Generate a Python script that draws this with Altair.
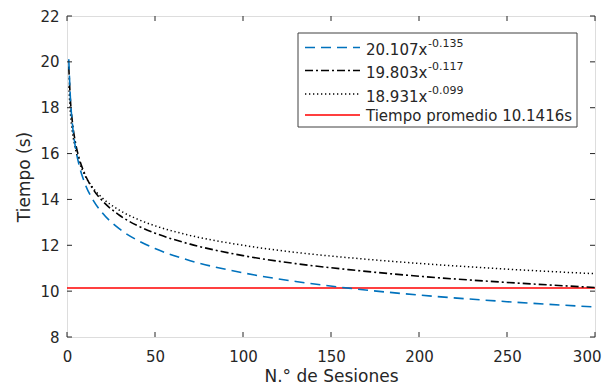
import altair as alt
import pandas as pd

# ---- data ----
sessions = [1, 2, 3, 5, 7, 10, 15, 20, 30, 40, 50, 70, 100, 130, 160, 200, 250, 300]
fit_a = [20.11, 18.31, 17.34, 16.18, 15.46, 14.73, 13.95, 13.42, 12.70, 12.22, 11.86,
         11.33, 10.80, 10.42, 10.13, 9.83, 9.54, 9.31]
fit_b = [19.80, 18.26, 17.42, 16.40, 15.77, 15.13, 14.42, 13.95, 13.30, 12.86, 12.53,
         12.05, 11.55, 11.20, 10.94, 10.65, 10.38, 10.16]
fit_c = [18.93, 17.68, 16.98, 16.14, 15.61, 15.07, 14.48, 14.07, 13.52, 13.14, 12.85,
         12.43, 12.00, 11.69, 11.46, 11.21, 10.96, 10.76]
avg_time = [10.1416]

x_ticks = [0, 50, 100, 150, 200, 250, 300]
y_ticks = [8, 10, 12, 14, 16, 18, 20, 22]

legend_bases = ["20.107x", "19.803x", "18.931x", "Tiempo promedio 10.1416s"]
legend_exps = ["-0.135", "-0.117", "-0.099", ""]

# ---- styling ----
FONT = "DejaVu Sans"
TXT = "#262626"
W, H = 528, 321
BLUE = "#0072BD"

xs = alt.Scale(domain=[0, 300], nice=False, zero=False)
ys = alt.Scale(domain=[8, 22], nice=False, zero=False)

x_axis = alt.Axis(values=x_ticks, title="N.° de Sesiones", grid=False, ticks=False,
                  domain=False, labelFont=FONT, labelFontSize=15, labelColor=TXT,
                  labelPadding=12,
                  labelAlign={"condition": {"test": "datum.value >= 300", "value": "right"},
                              "value": "center"},
                  labelOffset={"condition": {"test": "datum.value >= 300", "value": 6},
                               "value": 0},
                  titleFont=FONT, titleFontSize=17,
                  titleFontWeight="normal", titleColor=TXT, titlePadding=4)
y_axis = alt.Axis(values=y_ticks, title="Tiempo (s)", grid=False, ticks=False,
                  domain=False, labelFont=FONT, labelFontSize=15, labelColor=TXT,
                  labelPadding=8, titleFont=FONT, titleFontSize=17,
                  titleFontWeight="normal", titleColor=TXT, titlePadding=6)

df_a = pd.DataFrame({"x": sessions, "y": fit_a})
df_b = pd.DataFrame({"x": sessions, "y": fit_b})
df_c = pd.DataFrame({"x": sessions, "y": fit_c})

def curve(df, color, dash, width=1.6):
    return alt.Chart(df).mark_line(color=color, strokeDash=dash, strokeWidth=width,
                                   interpolate="monotone", clip=True).encode(
        x=alt.X("x:Q", scale=xs, axis=x_axis),
        y=alt.Y("y:Q", scale=ys, axis=y_axis),
    )

line_c = curve(df_c, "black", [1.3, 2.7], 1.5)
line_b = curve(df_b, "black", [8, 3, 2, 3], 1.6)
line_a = curve(df_a, BLUE, [10, 6], 1.6)

avg_rule = alt.Chart(pd.DataFrame({"v": avg_time})).mark_rule(
    color="#FF0000", strokeWidth=1.5).encode(y=alt.Y("v:Q", scale=ys, axis=y_axis))

# inner ticks (MATLAB style), on all four sides
xt = pd.DataFrame({"t": x_ticks})
yt = pd.DataFrame({"t": y_ticks})
tick_color = TXT
ticks = [
    alt.Chart(xt).mark_rule(color=tick_color, strokeWidth=1).encode(
        x=alt.X("t:Q", scale=xs, axis=x_axis), y=alt.value(H), y2=alt.value(H - 5)),
    alt.Chart(xt).mark_rule(color=tick_color, strokeWidth=1).encode(
        x=alt.X("t:Q", scale=xs, axis=x_axis), y=alt.value(0), y2=alt.value(5)),
    alt.Chart(yt).mark_rule(color=tick_color, strokeWidth=1).encode(
        y=alt.Y("t:Q", scale=ys, axis=y_axis), x=alt.value(0), x2=alt.value(5)),
    alt.Chart(yt).mark_rule(color=tick_color, strokeWidth=1).encode(
        y=alt.Y("t:Q", scale=ys, axis=y_axis), x=alt.value(W), x2=alt.value(W - 5)),
]

# ---- manual legend box (to allow superscript exponents) ----
one = pd.DataFrame({"k": [0]})
legend_layers = [
    alt.Chart(one).mark_rect(fill="white", stroke="#404040", strokeWidth=1).encode(
        x=alt.value(231), x2=alt.value(510), y=alt.value(17), y2=alt.value(111))
]
sample_styles = [
    (BLUE, [10, 6], 1.6),
    ("black", [8, 3, 2, 3], 1.6),
    ("black", [1.3, 2.7], 1.5),
    ("#FF0000", [1, 0], 1.5),
]
line_ys = [31.5, 54.5, 78, 99]
base_ys = [38.5, 62, 85.5, 104.5]
sup_ys = [30.5, 54, 77.5, 0]
for i, (base, exp) in enumerate(zip(legend_bases, legend_exps)):
    col, dash, sw = sample_styles[i]
    legend_layers.append(
        alt.Chart(one).mark_rule(color=col, strokeDash=dash, strokeWidth=sw).encode(
            x=alt.value(238), x2=alt.value(293), y=alt.value(line_ys[i])))
    legend_layers.append(
        alt.Chart(one).mark_text(align="left", baseline="alphabetic", font=FONT,
                                 fontSize=15, color=TXT).encode(
            x=alt.value(299), y=alt.value(base_ys[i]), text=alt.value(base)))
    if exp:
        legend_layers.append(
            alt.Chart(one).mark_text(align="left", baseline="alphabetic", font=FONT,
                                     fontSize=11, color=TXT).encode(
                x=alt.value(361), y=alt.value(sup_ys[i]), text=alt.value(exp)))

chart = alt.layer(
    avg_rule, line_c, line_b, line_a, *ticks, *legend_layers
).properties(
    width=W, height=H,
    autosize=alt.AutoSizeParams(type="none"),
    padding={"left": 59, "top": 8, "right": 7, "bottom": 50},
).configure_view(
    stroke=TXT, strokeWidth=1
).configure(background="white")

chart.save("out.html", embed_options={"renderer": "svg", "actions": False})
